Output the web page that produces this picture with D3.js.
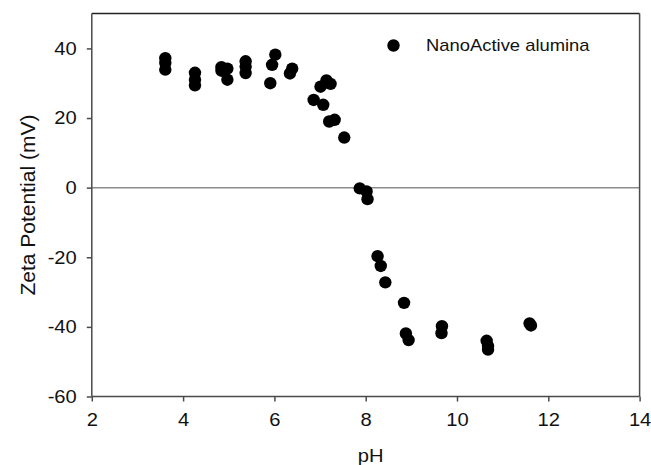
<!DOCTYPE html>
<html>
<head>
<meta charset="utf-8">
<script src="https://cdn.jsdelivr.net/npm/d3@7"></script>
<style>
  html, body { margin: 0; padding: 0; background: #fff; }
  svg { display: block; font-family: "Liberation Sans", Arial, sans-serif; }
</style>
</head>
<body>
<svg id="chart" width="651" height="465"></svg>
<script>
// ---- data ----
const seriesName = "NanoActive alumina";
const pH = [3.61, 3.61, 3.61, 4.26, 4.26, 4.26, 4.84, 4.84, 4.97, 4.97,
            5.37, 5.37, 5.37, 6.02, 5.95, 5.91, 6.39, 6.34, 7.14, 7.23,
            7.01, 6.86, 7.07, 7.20, 7.32, 7.53, 7.87, 8.02, 8.04, 8.26,
            8.33, 8.43, 8.84, 8.88, 8.94, 9.67, 9.66, 10.65, 10.68, 10.68,
            11.59, 11.62];
const zeta = [37.2, 35.8, 33.9, 33.0, 31.0, 29.4, 34.6, 33.6, 34.2, 31.0,
              36.3, 34.8, 32.9, 38.2, 35.3, 30.0, 34.2, 32.8, 30.8, 29.8,
              29.0, 25.2, 23.8, 19.0, 19.5, 14.4, -0.2, -1.1, -3.3, -19.7,
              -22.5, -27.2, -33.1, -41.9, -43.8, -39.8, -41.8, -44.0, -45.5, -46.5,
              -39.0, -39.6];
const xTicks = [2, 4, 6, 8, 10, 12, 14];
const yTicks = [-60, -40, -20, 0, 20, 40];
const xDomain = [2, 14];
const yDomain = [-60, 50];
const xTitle = "pH";
const yTitle = "Zeta Potential (mV)";

// ---- layout ----
const L = 91.8, R = 639.6, T = 13.6, B = 396.5;
const svg = d3.select("#chart");
const x = d3.scaleLinear().domain(xDomain).range([L, R]);
const y = d3.scaleLinear().domain(yDomain).range([B, T]);
const axisCol = "#4a4a4a";
const sx = 1.12;

// zero reference line
svg.append("line")
  .attr("x1", x(xDomain[0])).attr("x2", x(xDomain[1]))
  .attr("y1", y(0)).attr("y2", y(0))
  .attr("stroke", "#8c8c8c").attr("stroke-width", 1.5);

// frame top & right
svg.append("line").attr("x1", L).attr("x2", R).attr("y1", T).attr("y2", T)
  .attr("stroke", "#222").attr("stroke-width", 1.5);
svg.append("line").attr("x1", R).attr("x2", R).attr("y1", T).attr("y2", B)
  .attr("stroke", axisCol).attr("stroke-width", 1.5);

// axes
const gx = svg.append("g").attr("transform", `translate(0,${B})`)
  .call(d3.axisBottom(x).tickValues(xTicks).tickSize(5).tickPadding(12).tickFormat(d3.format("d")));
const gy = svg.append("g").attr("transform", `translate(${L},0)`)
  .call(d3.axisLeft(y).tickValues(yTicks).tickSize(5).tickPadding(10).tickFormat(d => d < 0 ? "-" + Math.abs(d) : d));

[gx, gy].forEach(g => {
  g.select(".domain").attr("stroke", axisCol).attr("stroke-width", 1.5);
  g.selectAll(".tick line").attr("stroke", axisCol).attr("stroke-width", 1.5);
  g.selectAll(".tick text")
    .attr("fill", "#111")
    .style("font-size", "18px")
    .style("font-family", "'Liberation Sans', Arial, sans-serif")
    .each(function() {
      const t = d3.select(this);
      const tx = +t.attr("x") || 0;
      t.attr("x", 0).attr("transform", `translate(${tx},0) scale(${sx},1)`);
    });
});
gx.select(".domain").attr("d", `M${L},0H${R}`);
gy.select(".domain").attr("d", `M0,${B}V${T}`);

// axis titles
svg.append("text")
  .attr("transform", `translate(${(L + R) / 2 + 5},462) scale(${sx},1)`)
  .attr("text-anchor", "middle")
  .style("font-size", "18px").attr("fill", "#111")
  .text(xTitle);
svg.append("text")
  .attr("transform", `translate(35,${(T + B) / 2}) rotate(-90)`)
  .attr("text-anchor", "middle")
  .style("font-size", "21px").attr("fill", "#111")
  .text(yTitle);

// data points
const pts = pH.map((p, i) => ({ p, z: zeta[i] }));
svg.append("g").selectAll("circle").data(pts).join("circle")
  .attr("cx", d => x(d.p)).attr("cy", d => y(d.z))
  .attr("r", 6.2).attr("fill", "#000");

// legend
const lg = svg.append("g");
lg.append("circle").attr("cx", 393.5).attr("cy", 45.5).attr("r", 6.2).attr("fill", "#000");
lg.append("text")
  .attr("transform", `translate(426,51) scale(1.15,1)`)
  .style("font-size", "16px").attr("fill", "#111")
  .text(seriesName);
</script>
</body>
</html>
